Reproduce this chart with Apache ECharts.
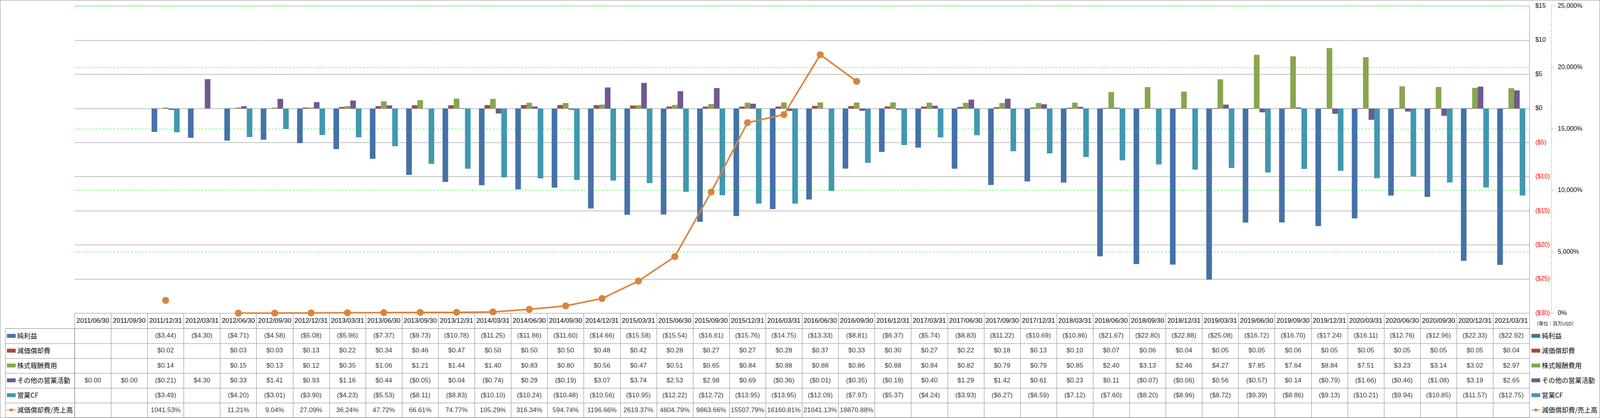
<!DOCTYPE html>
<html><head><meta charset="utf-8">
<script src="https://cdn.jsdelivr.net/npm/echarts@6.0.0/dist/echarts.min.js"></script>
<style>
html,body{margin:0;padding:0;background:#fff;overflow:hidden}
#c{width:100vw;height:1071px;position:relative}
#b{position:absolute;left:0;top:0;width:100vw;height:1071px;box-sizing:border-box;border:1px solid #868686;pointer-events:none}
</style>
</head><body>
<div id="c"></div><div id="b"></div>
<script>
const categories = ['2011/06/30','2011/09/30','2011/12/31','2012/03/31','2012/06/30','2012/09/30','2012/12/31','2013/03/31','2013/06/30','2013/09/30','2013/12/31','2014/03/31','2014/06/30','2014/09/30','2014/12/31','2015/03/31','2015/06/30','2015/09/30','2015/12/31','2016/03/31','2016/06/30','2016/09/30','2016/12/31','2017/03/31','2017/06/30','2017/09/30','2017/12/31','2018/03/31','2018/06/30','2018/09/30','2018/12/31','2019/03/31','2019/06/30','2019/09/30','2019/12/31','2020/03/31','2020/06/30','2020/09/30','2020/12/31','2021/03/31'];
const seriesNames = ['純利益','減価償却費','株式報酬費用','その他の営業活動','営業CF','減価償却費/売上高'];
const netIncome = [null,null,-3.44,-4.30,-4.71,-4.58,-5.08,-5.96,-7.37,-9.73,-10.78,-11.25,-11.86,-11.60,-14.66,-15.58,-15.54,-16.61,-15.76,-14.75,-13.33,-8.81,-6.37,-5.74,-8.83,-11.22,-10.69,-10.86,-21.67,-22.80,-22.88,-25.08,-16.72,-16.70,-17.24,-16.11,-12.76,-12.96,-22.33,-22.92];
const depreciation = [null,null,0.02,null,0.03,0.03,0.13,0.22,0.34,0.46,0.47,0.50,0.50,0.50,0.48,0.42,0.28,0.27,0.27,0.28,0.37,0.33,0.30,0.27,0.22,0.18,0.13,0.10,0.07,0.06,0.04,0.05,0.05,0.06,0.05,0.05,0.05,0.05,0.05,0.04];
const stockComp = [null,null,0.14,null,0.15,0.13,0.12,0.35,1.06,1.21,1.44,1.40,0.83,0.80,0.56,0.47,0.51,0.65,0.84,0.88,0.88,0.86,0.88,0.84,0.82,0.79,0.79,0.85,2.40,3.13,2.46,4.27,7.85,7.64,8.84,7.51,3.23,3.14,3.02,2.97];
const otherOps = [0.00,0.00,-0.21,4.30,0.33,1.41,0.93,1.16,0.44,-0.05,0.04,-0.74,0.29,-0.19,3.07,3.74,2.53,2.98,0.69,-0.36,-0.01,-0.35,-0.19,0.40,1.29,1.42,0.61,0.23,0.11,-0.07,-0.06,0.56,-0.57,0.14,-0.79,-1.66,-0.46,-1.08,3.19,2.65];
const operatingCF = [null,null,-3.49,null,-4.20,-3.01,-3.90,-4.23,-5.53,-8.11,-8.83,-10.10,-10.24,-10.48,-10.56,-10.95,-12.22,-12.72,-13.95,-13.95,-12.09,-7.97,-5.37,-4.24,-3.93,-6.27,-6.59,-7.12,-7.60,-8.20,-8.96,-8.72,-9.39,-8.86,-9.13,-10.21,-9.94,-10.85,-11.57,-12.75];
const depRatio = [null,null,1041.53,null,11.21,9.04,27.09,36.24,47.72,66.61,74.77,105.29,316.34,594.74,1196.66,2619.37,4604.79,9863.66,15507.79,16160.81,21041.13,18870.88,null,null,null,null,null,null,null,null,null,null,null,null,null,null,null,null,null,null];
const leftTicks = [-30,-25,-20,-15,-10,-5,0,5,10,15];
const rightTicks = [0,5000,10000,15000,20000,25000];

const colors = ['#4572A7','#AA4643','#89A54E','#71588F','#4198AF','#DB843D'];
const GRAY = '#868686';
const LAT = "'Liberation Sans', Arial, sans-serif";
const CJK = "'Noto Sans CJK JP', sans-serif";
const money = v => v < 0 ? '($' + (-v).toFixed(2) + ')' : '$' + v.toFixed(2);
const pct = v => v.toFixed(2) + '%';
const rows = [netIncome, depreciation, stockComp, otherOps, operatingCF, depRatio];
const rowIds = ['r0','r1','r2','r3','r4','r5'];
const tableData = [];
rows.forEach((arr, r) => {
  arr.forEach((v, i) => {
    if (v === null || v === undefined) return;
    tableData.push({ name: r === 5 ? pct(v) : money(v), value: [i, r] });
  });
});

const el = document.getElementById('c');
const W = el.clientWidth;
const sx = W / 5876;
const X = v => v * sx;

const plotL = X(274.3), plotR = X(5617), plotT = 15.5, plotB = 802.5;
const tblT = 841.7, tblB = 1070;

const chart = echarts.init(el, null, {renderer: 'canvas'});
const barBase = {
  type: 'bar', xAxisIndex: 0, yAxisIndex: 0,
  barGap: '0%', barCategoryGap: '23%', silent: true
};
const legendData = seriesNames.map((n, i) => i < 5 ? {name: n, icon: 'rect'} : {name: n});
const legendBase = {
  orient: 'vertical', top: 846.5, itemGap: 10, itemWidth: X(32), itemHeight: 10,
  padding: 0, selectedMode: false, data: legendData,
  textStyle: {fontSize: 17, lineHeight: 28, color: '#000', fontFamily: CJK, padding: [0, 0, 0, -1]}
};

chart.setOption({
  animation: false,
  backgroundColor: '#fff',
  color: colors,
  title: {
    text: '（単位：百万USD）', left: X(5634), top: 823, padding: 0,
    textStyle: {fontSize: 12, fontWeight: 'normal', color: '#000', fontFamily: CJK}
  },
  legend: [
    Object.assign({left: X(24)}, legendBase),
    Object.assign({left: X(5623)}, legendBase)
  ],
  grid: [
    {left: plotL, top: plotT, width: plotR - plotL, height: plotB - plotT, containLabel: false},
    {left: plotL, top: tblT, width: plotR - plotL, height: tblB - tblT, show: true, borderColor: GRAY, borderWidth: 1},
    {left: X(20.3), top: tblT, width: plotL - X(20.3), height: tblB - tblT, show: true, borderColor: GRAY, borderWidth: 1}
  ],
  xAxis: [
    {
      type: 'category', gridIndex: 0, data: categories,
      axisLine: {show: true, onZero: false, lineStyle: {color: GRAY, width: 1}},
      axisTick: {show: true, interval: 0, length: 39, lineStyle: {color: GRAY, width: 1}},
      axisLabel: {interval: 0, margin: 11, fontSize: 17, color: '#000', fontFamily: LAT},
      splitLine: {show: false}
    },
    {
      type: 'category', gridIndex: 1, data: categories,
      axisLine: {show: false}, axisTick: {show: false}, axisLabel: {show: false},
      splitLine: {show: true, interval: 0, lineStyle: {color: GRAY, width: 1}}
    },
    {type: 'value', gridIndex: 2, min: 0, max: 1, show: false}
  ],
  yAxis: [
    {
      type: 'value', gridIndex: 0, position: 'right', min: leftTicks[0], max: leftTicks[leftTicks.length - 1], interval: 5,
      axisLine: {show: true, lineStyle: {color: GRAY, width: 1}},
      axisTick: {show: false},
      axisLabel: {
        margin: 15, fontSize: 16, color: '#000', fontFamily: LAT,
        formatter: v => v < 0 ? '{n|($' + (-v) + ')}' : '$' + v,
        rich: {n: {color: '#FF0000', fontSize: 16, fontFamily: LAT}}
      },
      splitLine: {show: true, lineStyle: {color: GRAY, width: 1}}
    },
    {
      type: 'value', gridIndex: 0, position: 'right', offset: X(80),
      min: rightTicks[0], max: rightTicks[rightTicks.length - 1], interval: 5000,
      axisLine: {show: true, lineStyle: {color: '#00FF00', width: 1, type: [3, 3]}},
      axisTick: {show: true, length: X(8), lineStyle: {color: '#00FF00', width: 1}},
      axisLabel: {
        margin: X(24), fontSize: 16, color: '#000', fontFamily: LAT,
        formatter: v => v.toLocaleString('en-US') + '%'
      },
      splitLine: {show: true, lineStyle: {color: '#00FF00', width: 1, type: [5, 4]}}
    },
    {
      type: 'category', gridIndex: 1, data: rowIds, inverse: true,
      axisLine: {show: false}, axisTick: {show: false}, axisLabel: {show: false},
      splitLine: {show: true, interval: 0, lineStyle: {color: GRAY, width: 1}}
    },
    {
      type: 'category', gridIndex: 2, data: rowIds, inverse: true,
      axisLine: {show: false}, axisTick: {show: false}, axisLabel: {show: false},
      splitLine: {show: true, interval: 0, lineStyle: {color: GRAY, width: 1}}
    }
  ],
  series: [
    Object.assign({name: seriesNames[0], data: netIncome}, barBase),
    Object.assign({name: seriesNames[1], data: depreciation}, barBase),
    Object.assign({name: seriesNames[2], data: stockComp}, barBase),
    Object.assign({name: seriesNames[3], data: otherOps}, barBase),
    Object.assign({name: seriesNames[4], data: operatingCF}, barBase),
    {
      name: seriesNames[5], type: 'line', xAxisIndex: 0, yAxisIndex: 1, data: depRatio,
      symbol: 'circle', symbolSize: 18, connectNulls: false, clip: false, z: 5, silent: true,
      lineStyle: {width: 4, color: colors[5]}, itemStyle: {color: colors[5]}
    },
    {
      type: 'scatter', xAxisIndex: 1, yAxisIndex: 2, data: tableData, silent: true,
      symbolSize: 1, itemStyle: {color: 'rgba(0,0,0,0)'},
      label: {show: true, position: 'inside', formatter: '{b}', fontSize: 17, color: '#000', fontFamily: LAT}
    }
  ]
});
</script>
</body></html>
